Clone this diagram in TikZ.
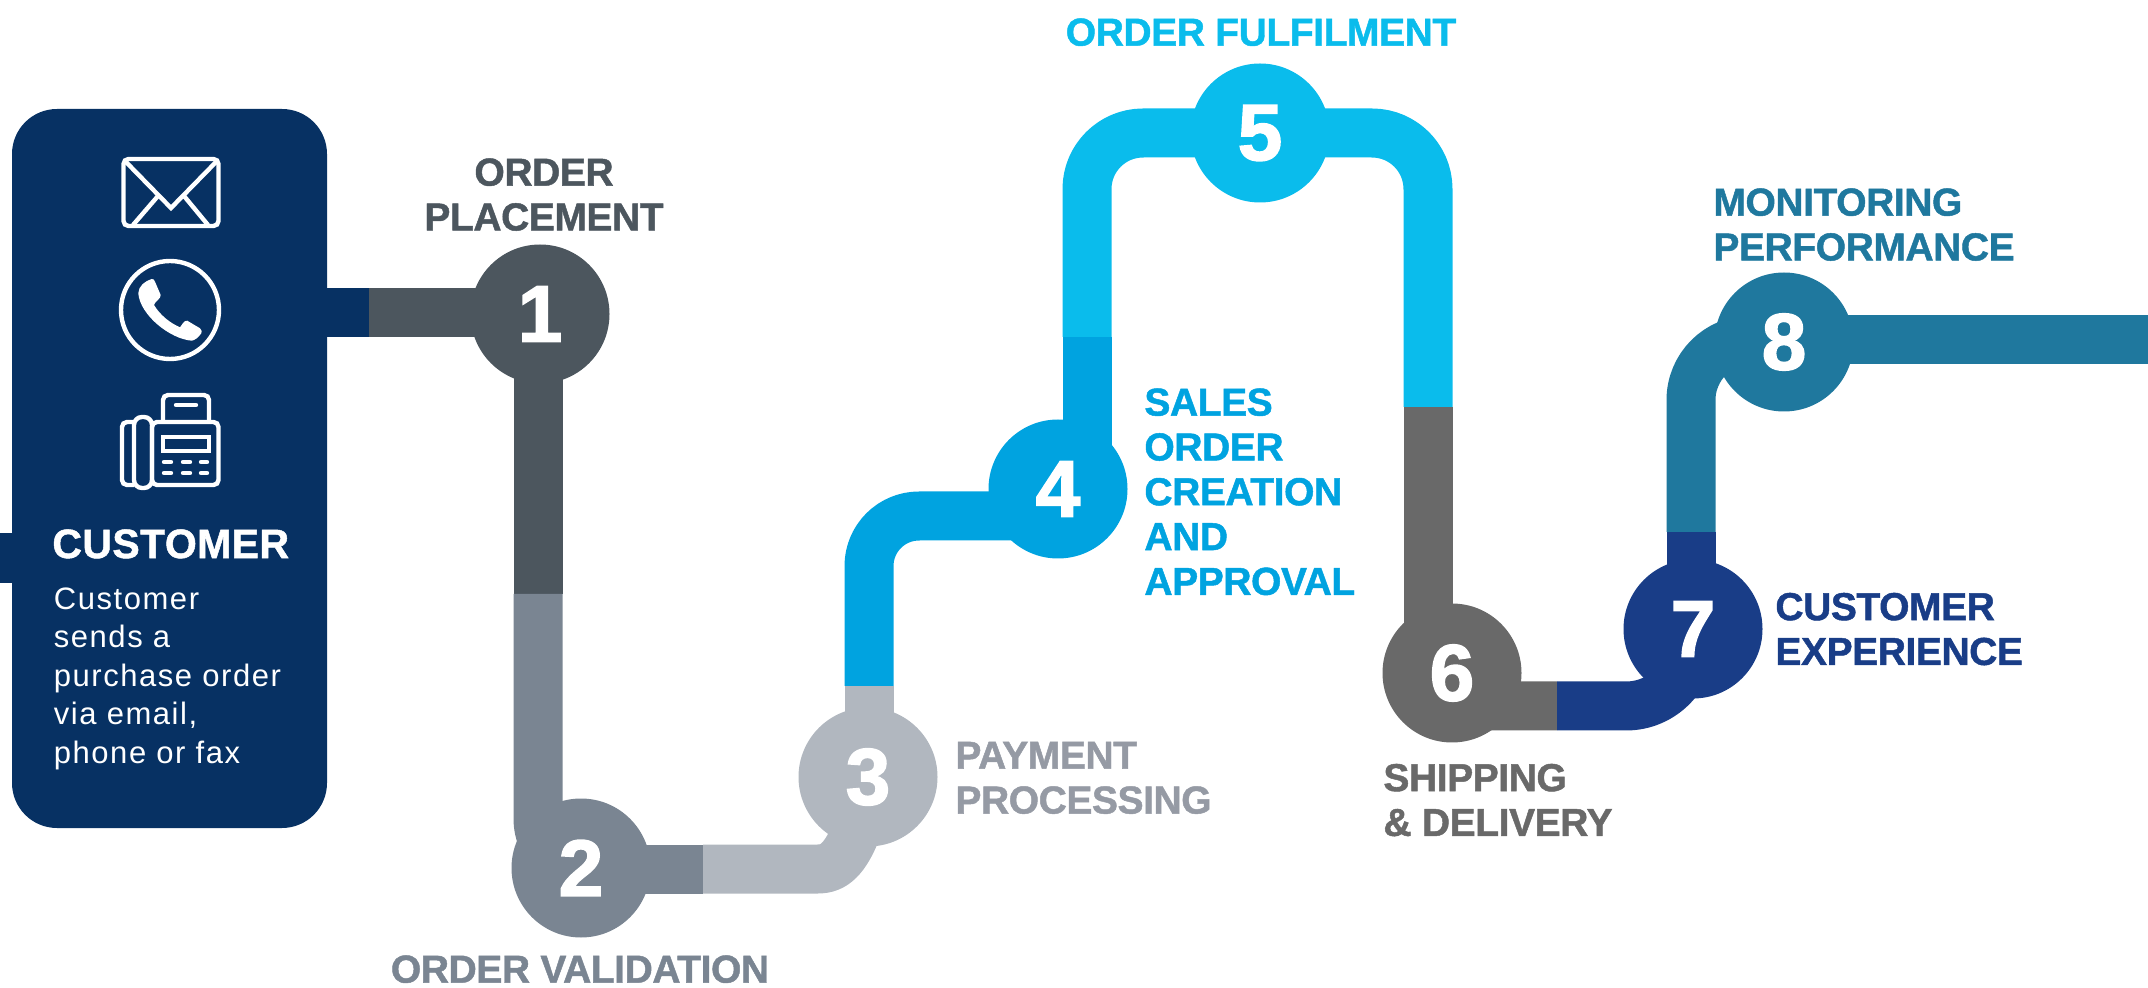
\documentclass[tikz,border=0pt]{standalone}
\usepackage{fontspec}
\setmainfont{Liberation Sans}
\usepackage{xcolor}
\usetikzlibrary{backgrounds}
\definecolor{navy}{HTML}{073163}
\definecolor{cOne}{HTML}{4C565E}
\definecolor{cTwo}{HTML}{7A8592}
\definecolor{cThree}{HTML}{B1B7BF}
\definecolor{cThreeText}{HTML}{959AA4}
\definecolor{cFour}{HTML}{00A3E0}
\definecolor{cFive}{HTML}{0ABCEC}
\definecolor{cSix}{HTML}{696969}
\definecolor{cSeven}{HTML}{193D87}
\definecolor{cEight}{HTML}{1F789E}
\newfontfamily\labfont[LetterSpace=-1.1,FakeBold=1.2]{Liberation Sans Bold}
\newfontfamily\headfont[LetterSpace=1,FakeBold=1.2]{Liberation Sans Bold}
\newfontfamily\digfont[FakeBold=2]{Liberation Sans Bold}
\newfontfamily\bodyfont[LetterSpace=5]{Liberation Sans}
\tikzset{
  pipe/.style={line width=24.5pt, line cap=butt, line join=round, rounded corners=#1},
  pipe/.default=0pt,
  stop/.style={circle, fill=#1, minimum size=69.5pt, inner sep=0pt, text=white, font=\fontsize{40}{40}\digfont},
  lab/.style={text=#1, inner sep=0pt, anchor=north west, align=left, font=\fontsize{19.5}{22.4}\labfont},
  labc/.style={lab=#1, anchor=north, align=center},
  ico/.style={draw=white, line width=2.2pt, rounded corners=2.5pt},
}
\begin{document}
\begin{tikzpicture}[x=0.5pt,y=-0.5pt]
  \useasboundingbox (0,0) rectangle (2148,988);
  % customer panel
  \fill[navy] (0,533) rectangle (20,583);
  \fill[navy] (300,288) rectangle (369,337);
  \node[fill=navy, rounded corners=22.5pt, minimum width=157.5pt, minimum height=359.5pt, inner sep=0pt] (panel) at (169.5,468.5) {};
  % stops
  \node[stop=cOne] (s1) at (540,314) {1};
  \node[stop=cTwo] (s2) at (581,868) {2};
  \node[stop=cThree] (s3) at (868,777) {3};
  \node[stop=cFour] (s4) at (1058,489) {4};
  \node[stop=cFive] (s5) at (1260,133) {5};
  \node[stop=cSix] (s6) at (1452,673) {6};
  \node[stop=cSeven] (s7) at (1693,629) {7};
  \node[stop=cEight] (s8) at (1784,342) {8};
  \coordinate (a12) at (538,594);
  \coordinate (a23) at (703,869);
  \coordinate (b3) at (862,815);
  \coordinate (a34) at (869,686);
  \coordinate (b4) at (1058,516);
  \coordinate (a45) at (1087,337);
  \coordinate (a56) at (1428,407);
  \coordinate (a67) at (1557,706);
  \coordinate (a78) at (1691,532);
  \coordinate (a0) at (369,312.5);
  \coordinate (aEnd) at (2148,340);
  \begin{pgfonlayer}{background}
    \draw[pipe, draw=cOne] (a0) -- (a0 -| s1.center);
    \draw[pipe, draw=cOne] (s1.center -| a12) -- (a12);
    \draw[pipe=25pt, draw=cTwo] (a12) |- (s2.center |- a23);
    \draw[pipe, draw=cTwo] (s2.center |- a23) -- (a23);
    \draw[pipe, draw=cThree] (a23) -- (818,869) .. controls (835,869) and (848,858) .. (b3);
    \draw[pipe, draw=cThree] (s3.center -| a34) -- (a34);
    \draw[pipe=25pt, draw=cFour] (a34) |- (b4);
    \draw[pipe, draw=cFour] (s4.center -| a45) -- (a45);
    \draw[pipe=28pt, draw=cFive] (a45) |- (s5.center);
    \draw[pipe=28pt, draw=cFive] (s5.center) -| (a56);
    \draw[pipe, draw=cSix] (a56) -- (s6.center -| a56);
    \draw[pipe=25pt, draw=cSix] (s6.center -| a56) |- (a67);
    \draw[pipe=32.5pt, draw=cSeven] (a67) -| (s7.center -| a78);
    \draw[pipe, draw=cSeven] (s7.center -| a78) -- (a78);
    \draw[pipe=30pt, draw=cEight] (a78) |- (s8.center |- aEnd);
    \draw[pipe, draw=cEight] (s8.center |- aEnd) -- (aEnd);
  \end{pgfonlayer}
  % icons
  \draw[ico] (123.5,159) rectangle (218.5,226);
  \draw[ico, rounded corners=0pt] (126,162) -- (171,208) -- (216,162);
  \draw[ico, rounded corners=0pt] (133,225) -- (158,196);
  \draw[ico, rounded corners=0pt] (208,225) -- (184,196);
  \draw[ico] (170,310) circle (49);
  \fill[white] (138.3,293.3) .. controls (138.5,286) and (145,281) .. (151.7,279)
    .. controls (153,278.5) and (154.5,280) .. (155,281.7) -- (160.7,295)
    .. controls (161,299) and (155,301) .. (154,305)
    .. controls (160,315) and (170,323) .. (180,327.3)
    .. controls (182,325) and (184,320) .. (187.3,320.7) -- (200,328.3)
    .. controls (202,330) and (202,332) .. (201.3,333.3)
    .. controls (198,338) and (195,340) .. (191.7,340.7)
    .. controls (170,339) and (140,315) .. (138.3,293.3) -- cycle;
  \draw[ico] (163,423) -- (163,395) -- (209,395) -- (209,423);
  \draw[ico] (152,422) rectangle (218.5,485);
  \draw[ico, rounded corners=4pt] (134,417) rectangle (152,488);
  \draw[ico] (134,422) -- (122,422) -- (122,485) -- (134,485);
  \draw[ico, rounded corners=0pt] (163,437) rectangle (209,451);
  \draw[ico, line cap=round] (176,405) -- (196,405);
  \foreach \yy in {462,473} {
    \draw[ico, line cap=round] (164,\yy) -- (171,\yy);
    \draw[ico, line cap=round] (183,\yy) -- (190,\yy);
    \draw[ico, line cap=round] (201,\yy) -- (207,\yy);
  }
  % labels
  \node[lab=white, font=\fontsize{20.5}{22}\headfont] (custHead) at (52,529) {CUSTOMER};
  \node[lab=white, font=\fontsize{15.5}{19.25}\bodyfont] (custText) at (53.5,587) {Customer\\sends a\\purchase order\\via email,\\phone or fax};
  \node[labc=cOne] (l1) at (544,158) {ORDER\\PLACEMENT};
  \node[labc=cTwo] (l2) at (580,955) {ORDER VALIDATION};
  \node[lab=cThreeText] (l3) at (955,741.5) {PAYMENT\\PROCESSING};
  \node[lab=cFour] (l4) at (1144,388) {SALES\\ORDER\\CREATION\\AND\\APPROVAL};
  \node[labc=cFive] (l5) at (1261,18) {ORDER FULFILMENT};
  \node[lab=cSix] (l6) at (1383,763.5) {SHIPPING\\\& DELIVERY};
  \node[lab=cSeven] (l7) at (1775,592.5) {CUSTOMER\\EXPERIENCE};
  \node[lab=cEight] (l8) at (1713,188) {MONITORING\\PERFORMANCE};
\end{tikzpicture}
\end{document}
